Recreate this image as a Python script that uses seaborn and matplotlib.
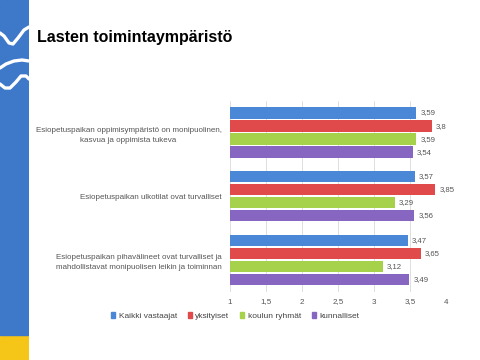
import numpy as np
import pandas as pd
import matplotlib
matplotlib.use("Agg")
import matplotlib.pyplot as plt
import seaborn as sns

# === Data ===
categories = [
    "Esiopetuspaikan oppimisympäristö on monipuolinen,\nkasvua ja oppimista tukeva",
    "Esiopetuspaikan ulkotilat ovat turvalliset",
    "Esiopetuspaikan pihavälineet ovat turvalliset ja\nmahdollistavat monipuolisen leikin ja toiminnan",
]
groups = ["Kaikki vastaajat", "yksityiset", "koulun ryhmät", "kunnalliset"]
kaikki = [3.59, 3.57, 3.47]
yksityiset = [3.80, 3.85, 3.65]
koulun = [3.59, 3.29, 3.12]
kunnalliset = [3.54, 3.56, 3.49]
value_labels = [["3,59", "3,57", "3,47"], ["3,8", "3,85", "3,65"],
                ["3,59", "3,29", "3,12"], ["3,54", "3,56", "3,49"]]
xticks = [1, 1.5, 2, 2.5, 3, 3.5, 4]
xtick_labels = ["1", "1,5", "2", "2,5", "3", "3,5", "4"]

colors = ["#4a87d6", "#e04a4a", "#a6d14a", "#8766c2"]

series = [kaikki, yksityiset, koulun, kunnalliset]
df = pd.DataFrame({
    "kysymys": categories * 4,
    "ryhmä": np.repeat(groups, 3),
    "arvo": np.concatenate(series),
})

# === Figure ===
sns.set_style("white")
plt.rcParams["font.family"] = ["Liberation Sans", "DejaVu Sans"]

fig = plt.figure(figsize=(4.8, 3.6), dpi=100)
ax = fig.add_axes([0.479, 0.19, 0.45, 0.53])

sns.barplot(data=df, y="kysymys", x="arvo", hue="ryhmä", order=categories,
            hue_order=groups, palette=colors, saturation=1, orient="h",
            width=0.82, gap=0.12, ax=ax, legend=False, edgecolor="none")

ax.set_xlim(1, 4)
ax.set_xticks(xticks)
ax.set_xticklabels(xtick_labels)
ax.set_xlabel("")
ax.set_ylabel("")
ax.grid(axis="x", color="#d9d9d9", linewidth=0.6)
ax.set_axisbelow(True)
for s in ax.spines.values():
    s.set_visible(False)
ax.tick_params(axis="x", length=0, pad=5, labelsize=5.8, labelcolor="#555555")
ax.tick_params(axis="y", length=0, pad=6, labelsize=5.8, labelcolor="#555555")
for lbl in ax.get_yticklabels():
    lbl.set_multialignment("center")
    lbl.set_linespacing(1.6)

# value labels
for cont, labs in zip(ax.containers, value_labels):
    ax.bar_label(cont, labels=labs, padding=3, fontsize=5.6, color="#555555")

# legend
handles = [plt.Rectangle((0, 0), 1, 1, color=c) for c in colors]
fig.legend(handles, groups, loc="center", bbox_to_anchor=(0.49, 0.122), ncol=4,
           frameon=False, fontsize=6, handlelength=0.5, handleheight=0.6,
           handletextpad=0.4, columnspacing=1.3, labelcolor="#444444")

# title
fig.text(0.077, 0.895, "Lasten toimintaympäristö", fontsize=11.5, fontweight="bold",
         color="black", va="center", ha="left")

# left decoration stripe
stripe = fig.add_axes([0, 0, 29 / 480, 1])
stripe.set_xlim(0, 29)
stripe.set_ylim(360, 0)
stripe.axis("off")
stripe.axhspan(335, 360, color="#f5c518")
stripe.axhspan(0, 335, color="#3d78c9")
stripe.plot([0, 4, 9, 13, 18, 24, 29], [33, 36, 43, 44, 38, 30, 27], color="white", lw=2.4,
            solid_capstyle="round")
stripe.plot([0, 6, 14, 22, 29], [68, 64, 61, 60, 61], color="white", lw=2.4)
stripe.plot([0, 5, 10, 16, 21, 26, 29], [84, 88, 88, 82, 76, 76, 79], color="white", lw=2.4)

fig.savefig("out.png", dpi=100)
